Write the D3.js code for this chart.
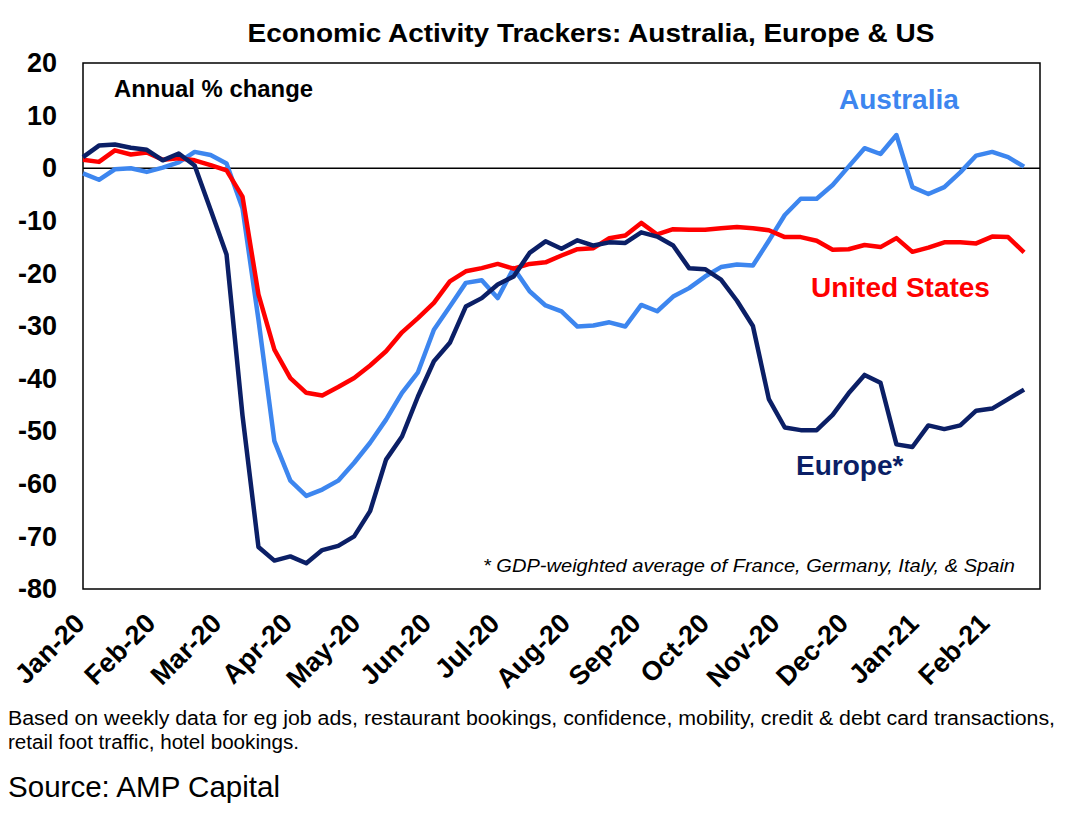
<!DOCTYPE html>
<html>
<head>
<meta charset="utf-8">
<script src="https://cdnjs.cloudflare.com/ajax/libs/d3/7.8.5/d3.min.js"></script>
<style>
    body { margin: 0; background: #fff; }
    text { font-family: Arial, "Liberation Sans", sans-serif; }
</style>
</head>
<body>
<svg id="chart" width="1066" height="830"></svg>
<script>

// weekly readings, annual % change, first week = start of Jan 2020
var firstWeek = "2020-01-01";
var lastDay = "2021-02-24";

var australia = [
    -1.0, -2.2, -0.2, 0.0, -0.7, 0.1, 1.1, 3.1, 2.5, 0.9,
    -7.6, -28.8, -51.9, -59.4, -62.3, -61.1, -59.4, -56.0, -52.2, -47.8,
    -42.7, -38.8, -30.7, -26.3, -21.8, -21.3, -24.7, -19.0, -23.4, -26.1,
    -27.2, -30.1, -29.9, -29.3, -30.1, -26.0, -27.2, -24.4, -22.8, -20.6,
    -18.8, -18.3, -18.5, -13.8, -8.9, -5.8, -5.8, -3.2, 0.3, 3.8,
    2.7, 6.3, -3.6, -4.9, -3.6, -0.8, 2.4, 3.1, 2.1, 0.3
];

var unitedStates = [
    1.6, 1.2, 3.4, 2.6, 3.0, 1.6, 1.9, 1.5, 0.6, -0.4,
    -5.4, -24.0, -34.5, -39.9, -42.7, -43.2, -41.6, -39.9, -37.5, -34.8,
    -31.2, -28.5, -25.6, -21.5, -19.6, -19.0, -18.2, -19.1, -18.2, -17.9,
    -16.6, -15.4, -15.2, -13.3, -12.8, -10.4, -12.6, -11.6, -11.7, -11.7,
    -11.4, -11.2, -11.4, -11.8, -13.1, -13.1, -13.8, -15.5, -15.4, -14.6,
    -15.0, -13.3, -15.9, -15.1, -14.1, -14.1, -14.3, -13.0, -13.1, -16.0
];

var europe = [
    2.1, 4.3, 4.5, 3.9, 3.5, 1.5, 2.8, 0.5, -7.9, -16.4,
    -47.0, -72.0, -74.6, -73.8, -75.1, -72.6, -71.8, -70.0, -65.2, -55.4,
    -51.0, -43.4, -36.7, -33.2, -26.3, -24.7, -22.1, -20.6, -16.1, -13.9,
    -15.3, -13.7, -14.7, -14.1, -14.2, -12.2, -13.0, -14.7, -19.0, -19.2,
    -21.2, -25.2, -30.0, -43.9, -49.3, -49.8, -49.8, -46.9, -42.8, -39.3,
    -40.8, -52.5, -53.0, -48.9, -49.6, -48.9, -46.1, -45.7, -43.9, -42.1
];

var yTicks = [20, 10, 0, -10, -20, -30, -40, -50, -60, -70, -80];
var monthLabels = ["Jan-20", "Feb-20", "Mar-20", "Apr-20", "May-20", "Jun-20", "Jul-20",
    "Aug-20", "Sep-20", "Oct-20", "Nov-20", "Dec-20", "Jan-21", "Feb-21"];

var series = [
    {name: "Australia", values: australia, color: "#3d86ef"},
    {name: "United States", values: unitedStates, color: "#ff0000"},
    {name: "Europe*", values: europe, color: "#0b1f66"}
];

var svg = d3.select("#chart");

var plot = {left: 83, right: 1040, top: 63, bottom: 589};

var parseDay = d3.timeParse("%Y-%m-%d");
var start = parseDay(firstWeek);
var weeks = australia.map(function (d, i) {
    return d3.timeDay.offset(start, 7 * i);
});
var months = monthLabels.map(function (d, i) {
    return d3.timeMonth.offset(start, i);
});

var x = d3.scaleTime()
    .domain([start, parseDay(lastDay)])
    .range([plot.left, plot.right]);

var y = d3.scaleLinear()
    .domain([-80, 20])
    .range([plot.bottom, plot.top]);

// title
svg.append("text")
    .attr("x", 591)
    .attr("y", 42)
    .attr("text-anchor", "middle")
    .attr("font-size", 26)
    .attr("font-weight", "bold")
    .attr("textLength", 687)
    .attr("lengthAdjust", "spacingAndGlyphs")
    .text("Economic Activity Trackers: Australia, Europe & US");

// plot frame
svg.append("rect")
    .attr("x", plot.left)
    .attr("y", plot.top)
    .attr("width", plot.right - plot.left)
    .attr("height", plot.bottom - plot.top)
    .attr("fill", "none")
    .attr("stroke", "#000")
    .attr("stroke-width", 1.5);

svg.append("line")
    .attr("x1", plot.left)
    .attr("x2", plot.right)
    .attr("y1", y(0))
    .attr("y2", y(0))
    .attr("stroke", "#000")
    .attr("stroke-width", 1.5);

// y axis (plain hyphen for negatives, like the source)
var yAxis = svg.append("g")
    .attr("transform", "translate(" + plot.left + ",0)")
    .call(d3.axisLeft(y)
        .tickValues(yTicks)
        .tickSize(0)
        .tickPadding(26)
        .tickFormat(function (d) { return String(d); }));
yAxis.select(".domain").remove();
yAxis.selectAll("text")
    .attr("font-size", 27)
    .attr("font-weight", "bold")
    .attr("fill", "#000")
    .attr("font-family", "Arial, 'Liberation Sans', sans-serif");

// x axis, month labels slanted
var xAxis = svg.append("g")
    .attr("transform", "translate(0," + plot.bottom + ")")
    .call(d3.axisBottom(x)
        .tickValues(months)
        .tickSize(0)
        .tickFormat(function (d, i) { return monthLabels[i]; }));
xAxis.select(".domain").remove();
xAxis.selectAll("text")
    .attr("font-size", 27)
    .attr("font-weight", "bold")
    .attr("fill", "#000")
    .attr("font-family", "Arial, 'Liberation Sans', sans-serif")
    .attr("text-anchor", "end")
    .attr("dy", null)
    .attr("y", null)
    .attr("transform", "translate(3,36) rotate(-45)");

// series lines
var line = d3.line()
    .x(function (d, i) { return x(weeks[i]); })
    .y(function (d) { return y(d); });

svg.selectAll(".series")
    .data(series)
    .enter()
    .append("path")
    .attr("class", "series")
    .attr("d", function (d) { return line(d.values); })
    .attr("fill", "none")
    .attr("stroke", function (d) { return d.color; })
    .attr("stroke-width", 4.5)
    .attr("stroke-linejoin", "round");

// in-plot labels
svg.append("text")
    .attr("x", 114)
    .attr("y", 97)
    .attr("font-size", 23)
    .attr("font-weight", "bold")
    .attr("textLength", 199)
    .attr("lengthAdjust", "spacingAndGlyphs")
    .text("Annual % change");

var seriesLabels = [
    {text: "Australia", x: 839, y: 109, color: series[0].color},
    {text: "United States", x: 811, y: 297, color: series[1].color},
    {text: "Europe*", x: 796, y: 475, color: series[2].color}
];

svg.selectAll(".series-label")
    .data(seriesLabels)
    .enter()
    .append("text")
    .attr("class", "series-label")
    .attr("x", function (d) { return d.x; })
    .attr("y", function (d) { return d.y; })
    .attr("font-size", 28)
    .attr("font-weight", "bold")
    .attr("fill", function (d) { return d.color; })
    .text(function (d) { return d.text; });

svg.append("text")
    .attr("x", 1015)
    .attr("y", 572)
    .attr("text-anchor", "end")
    .attr("font-size", 18)
    .attr("font-style", "italic")
    .attr("textLength", 532)
    .attr("lengthAdjust", "spacingAndGlyphs")
    .text("* GDP-weighted average of France, Germany, Italy, & Spain");

// notes under chart
svg.append("text")
    .attr("x", 8)
    .attr("y", 725)
    .attr("font-size", 20)
    .attr("textLength", 1047)
    .attr("lengthAdjust", "spacingAndGlyphs")
    .text("Based on weekly data for eg job ads, restaurant bookings, confidence, mobility, credit & debt card transactions,");

svg.append("text")
    .attr("x", 8)
    .attr("y", 749)
    .attr("font-size", 20)
    .attr("textLength", 291)
    .attr("lengthAdjust", "spacingAndGlyphs")
    .text("retail foot traffic, hotel bookings.");

svg.append("text")
    .attr("x", 8)
    .attr("y", 797)
    .attr("font-size", 29)
    .attr("textLength", 272)
    .attr("lengthAdjust", "spacingAndGlyphs")
    .text("Source: AMP Capital");

</script>
</body>
</html>
